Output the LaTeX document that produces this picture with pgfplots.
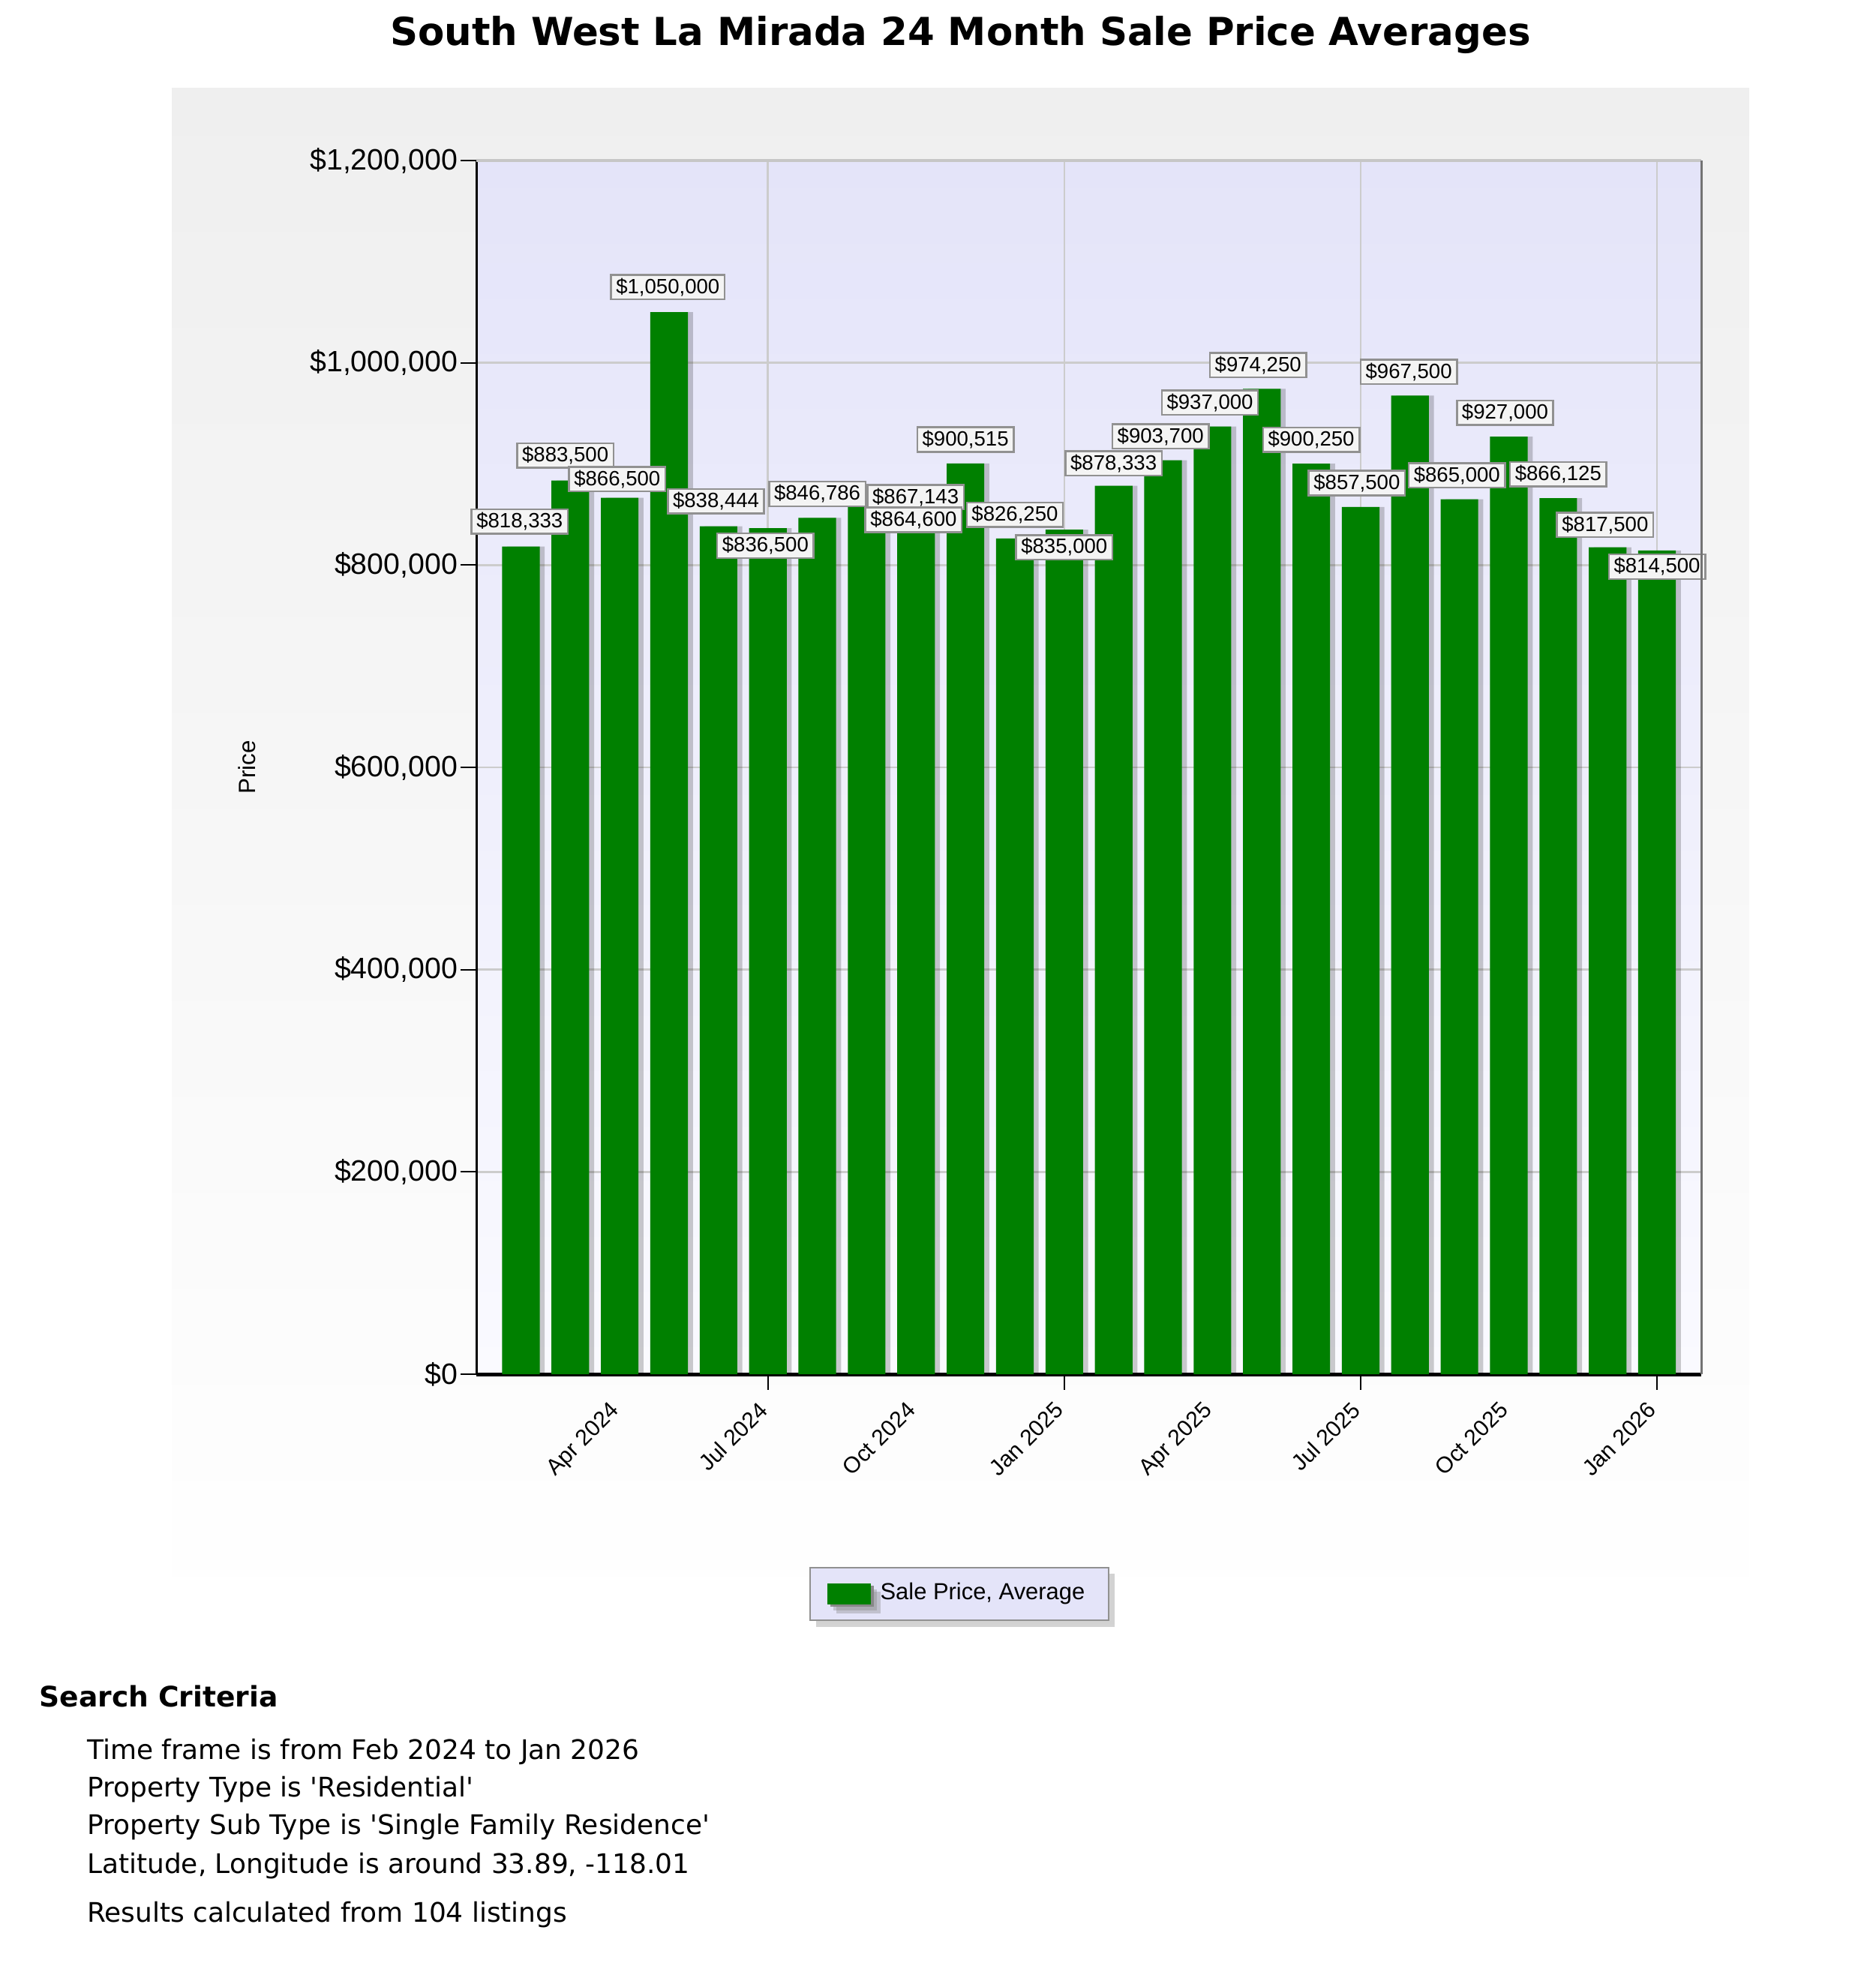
\documentclass[border=0pt]{standalone}
\usepackage{fontspec}
\setmainfont{Liberation Sans}
\newfontfamily\verd{DejaVu Sans}
\usepackage{pgfplots}
\pgfplotsset{compat=1.18}
\usepackage{pgfplotstable}
\usetikzlibrary{shadows}
\definecolor{barGreen}{RGB}{0,128,0}
\definecolor{lav}{RGB}{228,228,249}
\definecolor{lavlight}{RGB}{250,250,255}
\definecolor{panelgray}{RGB}{239,239,239}
\definecolor{gridgray}{RGB}{204,204,204}
\definecolor{lblfill}{RGB}{244,244,244}
\definecolor{lbldraw}{RGB}{145,145,145}

\pgfplotstableread{
x y lab dx dy
0 818333 818,333 -1 20
1 883500 883,500 -4 20
2 866500 866,500 -2 15
3 1050000 1,050,000 -1 20
4 838444 838,444 -2 20
5 836500 836,500 -2 -14
6 846786 846,786 0 19
7 867143 867,143 39 0
8 864600 864,600 -2 -16
9 900515 900,515 0 19
10 826250 826,250 0 19
11 835000 835,000 0 -14
12 878333 878,333 0 18
13 903700 903,700 -2 19
14 937000 937,000 -2 19
15 974250 974,250 -3 19
16 900250 900,250 0 19
17 857500 857,500 -3 19
18 967500 967,500 -1 19
19 865000 865,000 -2 19
20 927000 927,000 -3 19
21 866125 866,125 0 19
22 817500 817,500 -2 18
23 814500 814,500 0 -13
}\datatable

\begin{document}
\begin{tikzpicture}
\path[use as bounding box] (0,0) rectangle (598.4pt,-627.2pt);
\shade[top color=panelgray, bottom color=white] (54.8pt,-28pt) rectangle (558pt,-518pt);
\node[font=\verd\bfseries\fontsize{12.3}{14}\selectfont] at (306.4pt,-11.2pt) {South West La Mirada 24 Month Sale Price Averages};

\begin{axis}[
  at={(152pt,-438.4pt)}, anchor=south west,
  scale only axis, width=390.8pt, height=387.2pt,
  xmin=-0.9, xmax=23.9, ymin=0, ymax=1200000,
  axis lines=left, axis line style={-},
  x axis line style={line width=1.2pt},
  y axis line style={line width=0.8pt},
  axis background/.style={shade, top color=lav, bottom color=lavlight},
  tick align=outside,
  major tick length=5pt,
  ytick={0,200000,400000,600000,800000,1000000,1200000},
  yticklabels={{\$0},{\$200,000},{\$400,000},{\$600,000},{\$800,000},{\$1,000,000},{\$1,200,000}},
  scaled y ticks=false,
  ymajorgrids=true, xmajorgrids=true,
  grid style={gridgray, line width=0.6pt},
  ytick style={black, line width=0.5pt},
  xtick={5,11,17,23},
  xticklabels={},
  xtick style={black, line width=0.4pt},
  extra x ticks={2,5,8,11,14,17,20,23},
  extra x tick labels={Apr 2024,Jul 2024,Oct 2024,Jan 2025,Apr 2025,Jul 2025,Oct 2025,Jan 2026},
  extra x tick style={major tick length=0pt, xmajorgrids=false,
    xticklabel style={xshift=-3.4pt, yshift=-3.4pt, rotate=45, anchor=north east, font=\fontsize{7.2}{8}\selectfont}},
  yticklabel style={font=\fontsize{9.4}{10}\selectfont, xshift=2.5pt},
  ylabel={Price},
  every axis y label/.style={at={(rel axis cs:0,0.5)}, xshift=-73.2pt, anchor=center, rotate=90, font=\fontsize{7.5}{8}\selectfont},
  legend style={at={(0.394,-0.181)}, anchor=center, fill=lav, draw=lbldraw, line width=0.5pt,
    font=\fontsize{7.4}{8}\selectfont, inner xsep=5.5pt, inner ysep=3pt,
    drop shadow={shadow xshift=2pt, shadow yshift=-2pt, opacity=0.35}},
  after end axis/.code={
    \draw[gray!45, line width=0.8pt] (rel axis cs:0,1) -- (rel axis cs:1,1);
    \draw[black!55, line width=0.8pt] (rel axis cs:1,1) -- (rel axis cs:1,0);
  },
]
\addplot[ybar, bar width=12pt, bar shift=1.6pt, fill=black, fill opacity=0.2, draw=none, forget plot]
  table[x=x, y=y]{\datatable};
\addplot[ybar, bar width=12pt, bar shift=0pt, fill=barGreen, draw=none,
  legend image code/.code={
    \fill[black!45] (1pt,-4.2pt) rectangle (15pt,2.6pt);
    \fill[barGreen] (0pt,-3.4pt) rectangle (14pt,3.4pt);},
  point meta=explicit symbolic,
  visualization depends on={\thisrow{dx} \as \ldx},
  visualization depends on={\thisrow{dy} \as \ldy},
  nodes near coords={\$\pgfplotspointmeta},
  every node near coord/.append style={anchor=center, xshift={\ldx*0.4pt}, yshift={\ldy*0.4pt},
    fill=lblfill, draw=lbldraw, line width=0.6pt, inner xsep=1.6pt, inner ysep=0.6pt,
    minimum height=7.8pt, font=\fontsize{6.6}{7}\selectfont, text=black},
]
  table[x=x, y=y, meta=lab]{\datatable};
\addlegendentry{Sale Price, Average\hspace{14.5pt}}
\end{axis}

\node[inner sep=0pt, anchor=base west, font=\verd\bfseries\fontsize{9}{10}\selectfont] at (12.4pt,-544.4pt) {Search Criteria};
\begin{scope}[every node/.style={inner sep=0pt, anchor=base west, font=\verd\fontsize{8.6}{10}\selectfont}]
\node at (27.6pt,-561.2pt) {Time frame is from Feb 2024 to Jan 2026};
\node at (27.6pt,-573.2pt) {Property Type is 'Residential'};
\node at (27.6pt,-585.2pt) {Property Sub Type is 'Single Family Residence'};
\node at (27.6pt,-597.6pt) {Latitude, Longitude is around 33.89, -118.01};
\node at (27.6pt,-613.2pt) {Results calculated from 104 listings};
\end{scope}
\end{tikzpicture}
\end{document}
